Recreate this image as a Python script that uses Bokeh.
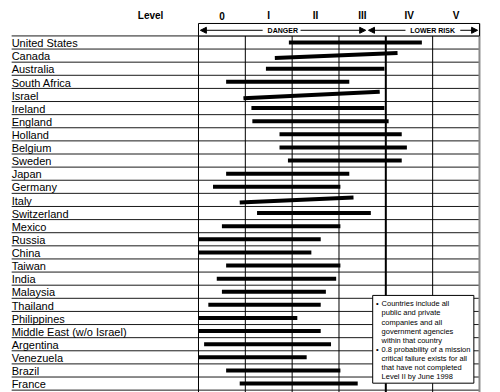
from bokeh.plotting import figure
from bokeh.models import Range1d, Arrow, NormalHead
from bokeh.core.properties import value
from bokeh.embed import file_html
from bokeh.resources import INLINE

# ---- data ----
countries = ["United States", "Canada", "Australia", "South Africa", "Israel",
             "Ireland", "England", "Holland", "Belgium", "Sweden", "Japan",
             "Germany", "Italy", "Switzerland", "Mexico", "Russia", "China",
             "Taiwan", "India", "Malaysia", "Thailand", "Philippines",
             "Middle East (w/o Israel)", "Argentina", "Venezuela", "Brazil", "France"]
level_start = [1.93, 1.63, 1.44, 0.59, 0.96, 1.13, 1.15, 1.73, 1.73, 1.91, 0.59,
               0.31, 0.88, 1.25, 0.50, 0.00, 0.00, 0.59, 0.39, 0.50, 0.21, 0.00,
               0.00, 0.12, 0.00, 0.59, 0.88]
level_end = [4.77, 4.25, 3.97, 3.22, 3.87, 3.97, 4.06, 4.34, 4.45, 4.34, 3.22,
             3.03, 3.31, 3.68, 3.03, 2.61, 2.41, 3.03, 2.94, 2.72, 2.61, 2.11,
             2.61, 2.83, 2.31, 3.03, 3.40]
# bars drawn slightly tilted in the original (rise from left to right, in rows)
tilt = [0, 0.38, 0, 0, 0.49, 0, 0, 0, 0, 0, 0, 0, 0.38, 0, 0, 0, 0, 0, 0, 0,
        0, 0, 0, 0, 0, 0, 0]
level_labels = ["0", "I", "II", "III", "IV", "V"]
note_lines = ["Countries include all", "public and private", "companies and all",
              "government agencies", "within that country",
              "0.8 probability of a mission", "critical failure exists for all",
              "that have not completed", "Level II by June 1998"]
note_bullets = [0, 5]

FONT = value("Liberation Sans")
n = len(countries)
rows = list(range(n))

p = figure(width=500, height=392,
           x_range=Range1d(-4.228, 6.449), y_range=Range1d(26.68, -3.201),
           x_axis_location=None, y_axis_location=None,
           toolbar_location=None, output_backend="svg", min_border=0)
p.outline_line_color = None
p.grid.visible = False
p.background_fill_color = "white"
p.border_fill_color = "white"

# row separator lines
ys = [k - 0.5 for k in range(n + 1)]
p.segment(x0=[-3.99] * len(ys), x1=[6] * len(ys), y0=ys, y1=ys,
          line_color="#1a1a1a", line_width=1)

# vertical column lines
thin = [0, 1, 2, 3, 5]
p.segment(x0=thin, x1=thin, y0=[-0.5] * len(thin), y1=[n] * len(thin),
          line_color="black", line_width=1)
p.segment(x0=[4], x1=[4], y0=[-0.5], y1=[n], line_color="black", line_width=2)
p.segment(x0=[6], x1=[6], y0=[-1.45], y1=[n], line_color="#8a8a8a", line_width=2)

# bars
y0 = [r + t / 2 for r, t in zip(rows, tilt)]
y1 = [r - t / 2 for r, t in zip(rows, tilt)]
p.segment(x0=level_start, x1=level_end, y0=y0, y1=y1,
          line_color="black", line_width=4, line_cap="butt")

# header box with arrows
p.quad(left=[0], right=[6], top=[-1.45], bottom=[-0.5],
       fill_color="white", line_color="black", line_width=1)
hy = -0.93
for xs, xe in [(1.37, 0.04), (2.18, 3.57), (4.42, 3.63), (5.59, 5.96)]:
    p.add_layout(Arrow(end=NormalHead(size=6, fill_color="black", line_color="black"),
                       x_start=xs, y_start=hy, x_end=xe, y_end=hy,
                       line_color="black", line_width=1))
p.text(x=[1.80, 5.0], y=[hy, hy], text=["DANGER", "LOWER RISK"],
       text_font=FONT, text_font_size="7px", text_font_style="bold",
       text_align="center", text_baseline="middle", text_color="black")

# level labels
p.text(x=[i + 0.5 for i in range(len(level_labels))], y=[-2.02] * len(level_labels),
       text=level_labels, text_font=FONT, text_font_size="10px",
       text_font_style="bold", text_align="center", text_baseline="middle",
       text_color="black")
p.text(x=[-0.75], y=[-2.02], text=["Level"], text_font=FONT, text_font_size="10px",
       text_font_style="bold", text_align="right", text_baseline="middle",
       text_color="black")

# country labels
p.text(x=[-3.99] * n, y=[r + 0.05 for r in rows], text=countries, text_font=FONT,
       text_font_size="11px", text_align="left", text_baseline="middle",
       text_color="black")

# note box
p.quad(left=[3.72], right=[5.88], top=[19.28], bottom=[25.97],
       fill_color="white", line_color="black", line_width=1)
step = 0.694
ny = [19.92 + step * k for k in range(len(note_lines))]
p.text(x=[3.91] * len(note_lines), y=ny, text=note_lines, text_font=FONT,
       text_font_size="7.5px", text_align="left", text_baseline="middle",
       text_color="black")
p.text(x=[3.79] * len(note_bullets), y=[ny[k] for k in note_bullets],
       text=["\u2022"] * len(note_bullets), text_font=FONT, text_font_size="7.5px",
       text_align="left", text_baseline="middle", text_color="black")

open("out.html", "w").write(file_html(p, INLINE))
